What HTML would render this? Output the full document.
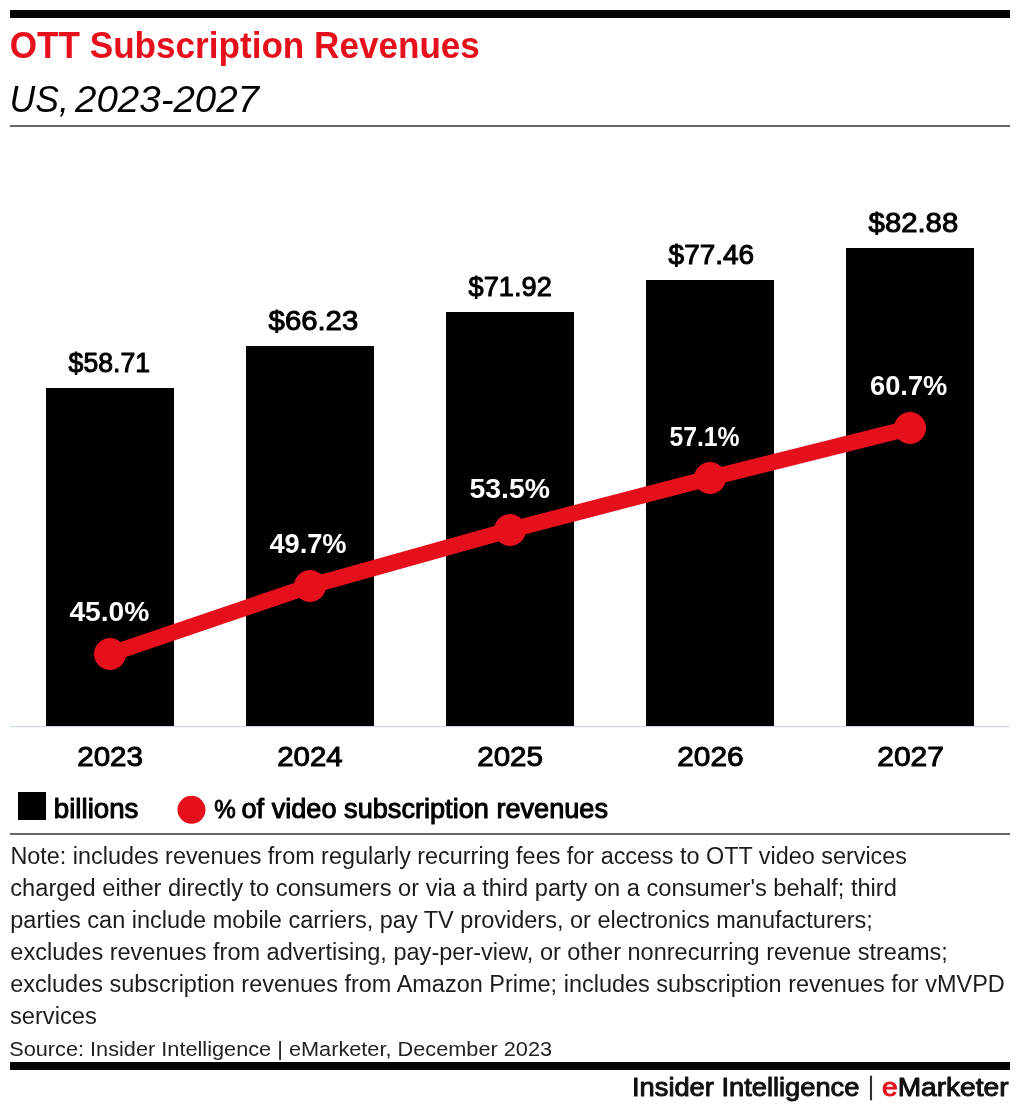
<!DOCTYPE html>
<html>
<head>
<meta charset="utf-8">
<style>
html,body{margin:0;padding:0;background:#fff;}
body{width:1020px;height:1112px;overflow:hidden;}
svg{display:block;will-change:transform;}
text{font-family:"Liberation Sans",Arial,sans-serif;}
.b{font-weight:700;}
.sb{font-weight:400;stroke-width:1px;stroke-linejoin:round;}
</style>
</head>
<body>
<svg width="1020" height="1112" viewBox="0 0 1020 1112">
<rect x="0" y="0" width="1020" height="1112" fill="#fff"/>
<rect x="10" y="10" width="1000" height="8" fill="#000"/>
<text class="b" x="9.8" y="58" textLength="470.1" lengthAdjust="spacingAndGlyphs" font-size="37.5" fill="#e5101b">OTT Subscription Revenues</text>
<g font-size="36.5" font-style="italic" fill="#000">
<text x="9.5" y="112.4" textLength="59.3" lengthAdjust="spacingAndGlyphs">US,</text>
<text x="75.1" y="112.4" textLength="183.9" lengthAdjust="spacingAndGlyphs">2023-2027</text>
</g>
<rect x="10" y="125" width="1000" height="2" fill="#666"/>
<g fill="#000">
<rect x="46" y="388" width="128" height="338"/>
<rect x="246" y="346" width="128" height="380"/>
<rect x="446" y="312" width="128" height="414"/>
<rect x="646" y="280" width="128" height="446"/>
<rect x="846" y="248" width="128" height="478"/>
</g>
<rect x="10" y="726" width="1000" height="1" fill="#ccd6eb"/><rect x="10" y="727" width="1000" height="1" fill="#f7f8fb"/>
<g font-size="27.5" fill="#000" stroke="#000">
<text class="sb" x="68.6" y="371.7" textLength="81.4" lengthAdjust="spacingAndGlyphs">$58.71</text>
<text class="sb" x="268.6" y="329.7" textLength="89.6" lengthAdjust="spacingAndGlyphs">$66.23</text>
<text class="sb" x="468.6" y="295.7" textLength="83.2" lengthAdjust="spacingAndGlyphs">$71.92</text>
<text class="sb" x="668.6" y="263.7" textLength="85.6" lengthAdjust="spacingAndGlyphs">$77.46</text>
<text class="sb" x="868.6" y="231.7" textLength="89.6" lengthAdjust="spacingAndGlyphs">$82.88</text>
</g>
<polyline points="110,654 310,586 510,530 710,478 910,428" fill="none" stroke="#e5101b" stroke-width="16" stroke-linejoin="round"/>
<g fill="#e5101b">
<circle cx="110" cy="654" r="16"/>
<circle cx="310" cy="586" r="16"/>
<circle cx="510" cy="530" r="16"/>
<circle cx="710" cy="478" r="16"/>
<circle cx="910" cy="428" r="16"/>
</g>
<g font-size="28" fill="#fff">
<text class="b" x="69.4" y="620.9" textLength="80" lengthAdjust="spacingAndGlyphs">45.0%</text>
<text class="b" x="269.4" y="552.9" textLength="77.2" lengthAdjust="spacingAndGlyphs">49.7%</text>
<text class="b" x="469.4" y="497.8" textLength="80.6" lengthAdjust="spacingAndGlyphs">53.5%</text>
<text class="b" x="669.4" y="445.5" textLength="70.2" lengthAdjust="spacingAndGlyphs">57.1%</text>
<text class="b" x="870.0" y="394.9" textLength="77.4" lengthAdjust="spacingAndGlyphs">60.7%</text>
</g>
<g font-size="28.5" fill="#000" stroke="#000">
<text class="sb" x="77.2" y="765.9" textLength="65.8" lengthAdjust="spacingAndGlyphs">2023</text>
<text class="sb" x="277.2" y="765.9" textLength="65.4" lengthAdjust="spacingAndGlyphs">2024</text>
<text class="sb" x="477.2" y="765.9" textLength="65.8" lengthAdjust="spacingAndGlyphs">2025</text>
<text class="sb" x="677.2" y="765.9" textLength="66.4" lengthAdjust="spacingAndGlyphs">2026</text>
<text class="sb" x="877.2" y="765.9" textLength="66.8" lengthAdjust="spacingAndGlyphs">2027</text>
</g>
<rect x="18" y="792" width="28" height="28" fill="#000"/>
<text class="sb" x="53.8" y="818.4" textLength="84.6" lengthAdjust="spacingAndGlyphs" font-size="27" fill="#000" stroke="#000">billions</text>
<circle cx="191.5" cy="809.8" r="14" fill="#e5101b"/>
<g font-size="27" fill="#000" stroke="#000">
<text class="sb" x="214.2" y="818.4" textLength="21.5" lengthAdjust="spacingAndGlyphs" font-size="25.5">%</text>
<text class="sb" x="241.5" y="818.4" textLength="366.5" lengthAdjust="spacingAndGlyphs">of video subscription revenues</text>
</g>
<rect x="10" y="833" width="1000" height="2" fill="#666"/>
<g font-size="23" fill="#1c1c1c">
<text x="10.4" y="864" textLength="896.6" lengthAdjust="spacingAndGlyphs">Note: includes revenues from regularly recurring fees for access to OTT video services</text>
<text x="10.3" y="896" textLength="886.6" lengthAdjust="spacingAndGlyphs">charged either directly to consumers or via a third party on a consumer's behalf; third</text>
<text x="10.3" y="928" textLength="862.6" lengthAdjust="spacingAndGlyphs">parties can include mobile carriers, pay TV providers, or electronics manufacturers;</text>
<text x="10.3" y="960" textLength="937.6" lengthAdjust="spacingAndGlyphs">excludes revenues from advertising, pay-per-view, or other nonrecurring revenue streams;</text>
<text x="10.3" y="992" textLength="994.5" lengthAdjust="spacingAndGlyphs">excludes subscription revenues from Amazon Prime; includes subscription revenues for vMVPD</text>
<text x="9.9" y="1024" textLength="87" lengthAdjust="spacingAndGlyphs">services</text>
</g>
<text x="9.2" y="1056" textLength="542.9" lengthAdjust="spacingAndGlyphs" font-size="20.5" fill="#222">Source: Insider Intelligence | eMarketer, December 2023</text>
<rect x="10" y="1062" width="1000" height="8" fill="#000"/>
<text class="sb" x="632" y="1096" textLength="227.4" lengthAdjust="spacingAndGlyphs" font-size="26.3" fill="#111" stroke="#111">Insider Intelligence</text>
<text x="868.5" y="1094.5" textLength="5" lengthAdjust="spacingAndGlyphs" font-size="26.3" fill="#111" stroke="#111" stroke-width="0.7">|</text>
<text class="sb" x="882" y="1096" textLength="126.5" lengthAdjust="spacingAndGlyphs" font-size="26.3" fill="#111" stroke="#111"><tspan fill="#e5101b" stroke="#e5101b">e</tspan>Marketer</text>
</svg>
</body>
</html>
